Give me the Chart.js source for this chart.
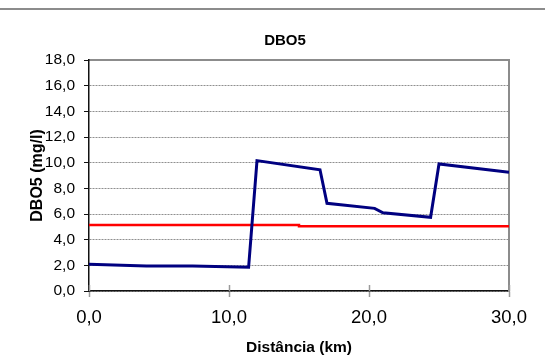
<!DOCTYPE html>
<html>
<head>
<meta charset="utf-8">
<script src="https://cdn.jsdelivr.net/npm/chart.js@4/dist/chart.umd.min.js"></script>
<style>
  html, body { margin: 0; padding: 0; background: #fff; }
  #wrap { position: relative; width: 545px; height: 362px; }
  #rule { position: absolute; left: 0; top: 8px; width: 545px; height: 2px; background: #8c8c8c; }
  canvas { position: absolute; left: 0; top: 0; }
</style>
</head>
<body>
<div id="wrap">
  <canvas id="c" width="545" height="362"></canvas>
  <div id="rule"></div>
</div>
<script>
// DBO5 profile along the river (km, mg/l)
const distanciaKm = [0, 4.1, 7.4, 11.4, 12.0, 16.5, 17.0, 20.4, 21.0, 24.4, 25.0, 30.0];
const dbo5 = [2.08, 1.95, 1.95, 1.85, 10.16, 9.45, 6.83, 6.44, 6.10, 5.74, 9.90, 9.25];

// Reference limit line
const limiteKm = [0, 15.0, 15.0, 30.0];
const limiteValor = [5.15, 5.15, 5.05, 5.05];

const xTicks = [0, 10, 20, 30];
const yTicks = [0, 2, 4, 6, 8, 10, 12, 14, 16, 18];

const toPoints = (xs, ys) => xs.map((x, i) => ({ x: x, y: ys[i] }));
const fmt = v => Number(v).toFixed(1).replace('.', ',');
const FONT = "'Liberation Sans', Arial, sans-serif";

// short tick marks on the inner side of the x axis
const innerTicks = {
  id: 'innerTicks',
  beforeDatasetsDraw(chart) {
    const { ctx, chartArea, scales } = chart;
    ctx.save();
    ctx.strokeStyle = '#9a9a9a';
    ctx.lineWidth = 1.5;
    xTicks.forEach(v => {
      const px = Math.round(scales.x.getPixelForValue(v)) + 0.5;
      ctx.beginPath();
      ctx.moveTo(px, chartArea.bottom);
      ctx.lineTo(px, chartArea.bottom - 6);
      ctx.stroke();
    });
    ctx.restore();
  }
};

new Chart(document.getElementById('c'), {
  type: 'scatter',
  data: {
    datasets: [
      {
        data: toPoints(distanciaKm, dbo5),
        showLine: true,
        borderColor: '#000080',
        borderWidth: 3,
        pointRadius: 0,
        tension: 0
      },
      {
        data: toPoints(limiteKm, limiteValor),
        showLine: true,
        borderColor: '#ff0000',
        borderWidth: 2.5,
        pointRadius: 0,
        tension: 0
      }
    ]
  },
  plugins: [innerTicks],
  options: {
    responsive: false,
    animation: false,
    layout: { padding: { left: 25, right: 0, top: 0, bottom: 0 } },
    plugins: {
      legend: { display: false },
      tooltip: { enabled: false },
      title: {
        display: true,
        text: 'DBO5',
        color: '#000',
        font: { family: FONT, size: 15, weight: 'bold', lineHeight: 1.2 },
        padding: { top: 32, bottom: 10 }
      }
    },
    scales: {
      x: {
        type: 'linear',
        position: 'bottom',
        min: 0, max: 30,
        afterBuildTicks: s => { s.ticks = xTicks.map(v => ({ value: v })); },
        afterFit: s => { s.height = 71; },
        ticks: {
          color: '#000',
          font: { family: FONT, size: 18.5 },
          padding: 10,
          maxRotation: 0,
          callback: v => fmt(v)
        },
        grid: {
          display: true,
          drawOnChartArea: false,
          drawTicks: true,
          tickLength: 6,
          tickColor: '#9a9a9a',
          tickWidth: 1.5
        },
        border: { display: true, color: '#111', width: 1.5 },
        title: {
          display: true,
          text: 'Distância (km)',
          color: '#000',
          font: { family: FONT, size: 15.5, weight: 'bold', lineHeight: 1.2 },
          padding: { top: 5, bottom: 5 }
        }
      },
      x2: {
        type: 'linear',
        position: 'top',
        min: 0, max: 30,
        afterFit: s => { s.height = 0; },
        ticks: { display: false },
        grid: { display: false, drawTicks: false },
        border: { display: true, color: '#8c8c8c', width: 2 }
      },
      y: {
        type: 'linear',
        position: 'left',
        min: 0, max: 18,
        afterBuildTicks: s => { s.ticks = yTicks.map(v => ({ value: v })); },
        afterFit: s => { s.width = 64; },
        ticks: {
          color: '#000',
          font: { family: FONT, size: 15.5 },
          padding: 9,
          callback: v => fmt(v)
        },
        grid: {
          color: '#8f8f8f',
          lineWidth: 1,
          drawTicks: true,
          tickLength: 5,
          tickColor: '#111',
          tickWidth: 1
        },
        border: { display: true, color: '#111', width: 1.5, dash: [2, 1] },
        title: {
          display: true,
          text: 'DBO5 (mg/l)',
          color: '#000',
          font: { family: FONT, size: 16, weight: 'bold', lineHeight: 1.2 },
          padding: { top: 2.5, bottom: 2.5 }
        }
      },
      y2: {
        type: 'linear',
        position: 'right',
        min: 0, max: 18,
        afterFit: s => { s.width = 36; },
        ticks: { display: false },
        grid: { display: false, drawTicks: false },
        border: { display: true, color: '#8c8c8c', width: 2 }
      }
    }
  }
});
</script>
</body>
</html>
